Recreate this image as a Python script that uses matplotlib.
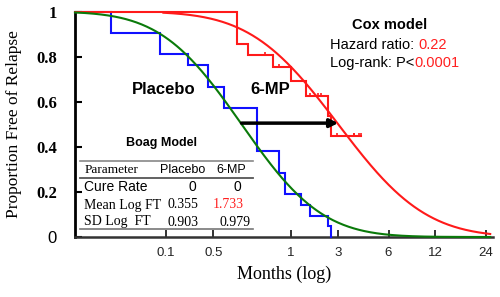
import numpy as np
import matplotlib
matplotlib.use("Agg")
import matplotlib.pyplot as plt
from matplotlib.lines import Line2D
from math import erf, sqrt

# ---------------- data ----------------
# Gehan leukemia remission data (weeks)
placebo_times = [1, 1, 2, 2, 3, 4, 4, 5, 5, 8, 8, 8, 8, 11, 11, 12, 12, 15, 17, 22, 23]
placebo_event = [1] * 21
mp_times = [6, 6, 6, 6, 7, 9, 10, 10, 11, 13, 16, 17, 19, 20, 22, 23, 25, 32, 32, 34, 35]
mp_event = [1, 1, 1, 0, 1, 0, 1, 0, 0, 1, 1, 0, 0, 0, 1, 1, 0, 0, 0, 0, 0]
weeks_per_unit = 4.5

# Boag (lognormal) model parameters
placebo_mu, placebo_sd, placebo_cure = 0.355, 0.903, 0.0
mp_mu, mp_sd, mp_cure = 1.733, 0.979, 0.0

tick_pos = [-0.72, -0.047, 1.06, 1.73, 2.45, 3.12, 3.84]
tick_labels = ["0.1", "0.5", "1", "3", "6", "12", "24"]
ytick_vals = [0, 0.2, 0.4, 0.6, 0.8, 1]
ytick_labels = ["0", "0.2", "0.4", "0.6", "0.8", "1"]

hazard_ratio = "0.22"
logrank_p = "0.0001"

# ---------------- helpers ----------------
def km(times, events):
    times = np.asarray(times, float); events = np.asarray(events, int)
    ut = np.unique(times)
    s = 1.0; xs = []; ss = []; cens = []
    at_risk = len(times)
    for t in ut:
        d = int(((times == t) & (events == 1)).sum())
        c = int(((times == t) & (events == 0)).sum())
        if d > 0:
            s *= (at_risk - d) / at_risk
            xs.append(t); ss.append(s)
        for _ in range(c):
            cens.append((t, s))
        at_risk -= d + c
    return xs, ss, cens

def u(t):
    return np.log(np.asarray(t, float) / weeks_per_unit)

def surv(x, mu, sd, cure):
    z = (x - mu) / sd
    phi = np.array([0.5 * (1 + erf(v / sqrt(2))) for v in np.atleast_1d(z)])
    return cure + (1 - cure) * (1 - phi)

XMIN, XMAX = -2.02, 3.94

fig = plt.figure(figsize=(5.0, 2.97), dpi=100)
ax = fig.add_axes([0.15, 1 - 237 / 297, (493 - 75) / 500, (237 - 11.5) / 297])
ax.set_xlim(XMIN, XMAX)
ax.set_ylim(0, 1.0)

def draw_km(times, events, color):
    xs, ss, cens = km(times, events)
    px = [XMIN]; py = [1.0]
    prev = 1.0
    for t, s in zip(xs, ss):
        px += [u(t), u(t)]; py += [prev, s]; prev = s
    last_t = max(times)
    if u(last_t) > px[-1]:
        px.append(u(last_t)); py.append(prev)
    ax.plot(px, py, color=color, lw=1.5, clip_on=False, zorder=3, solid_joinstyle="miter")
    if cens:
        cx = [u(c[0]) for c in cens]; cy = [c[1] for c in cens]
        ax.plot(cx, cy, ls="none", marker=[(0, 0), (0, 1)], ms=5, mew=1.2,
                color=color, clip_on=False, zorder=3)

draw_km(placebo_times, placebo_event, "#1010ff")
draw_km(mp_times, mp_event, "#ff1a1a")

xg = np.linspace(XMIN, 3.9, 400)
ax.plot(xg, surv(xg, placebo_mu, placebo_sd, placebo_cure), color="#0a7a0a", lw=1.5, zorder=4, clip_on=False)
xr = np.linspace(-0.76, 3.9, 400)
ax.plot(xr, surv(xr, mp_mu, mp_sd, mp_cure), color="#ff1a1a", lw=1.5, zorder=4, clip_on=False)

ax.annotate("", xy=(mp_mu, 0.505), xytext=(placebo_mu, 0.505),
            arrowprops=dict(arrowstyle="-|>", color="black", lw=2.5,
                            mutation_scale=12, shrinkA=0, shrinkB=0), zorder=6)

for s in ["top", "right"]:
    ax.spines[s].set_visible(False)
ax.spines["left"].set_linewidth(2.0)
ax.spines["left"].set_color("black")
ax.spines["bottom"].set_color("#333333")
ax.spines["bottom"].set_linewidth(1.8)
ax.set_xticks(tick_pos)
ax.set_xticklabels(tick_labels, fontsize=9.5, family="Liberation Sans")
ax.set_yticks(ytick_vals)
ax.set_yticklabels(ytick_labels)
for lbl in ax.get_yticklabels():
    if lbl.get_text() == "0":
        lbl.set_family("Liberation Sans"); lbl.set_fontsize(12)
    else:
        lbl.set_family("Liberation Serif"); lbl.set_fontweight("bold"); lbl.set_fontsize(12)
ax.tick_params(axis="y", direction="in", length=5, width=1.5, pad=13)
ax.tick_params(axis="x", direction="in", length=5, width=1.3, pad=7, colors="#222222")

ax.set_ylabel("Proportion Free of Relapse", family="Liberation Serif", fontsize=12.5, labelpad=10)
ax.set_xlabel("Months (log)", family="Liberation Serif", fontsize=13, labelpad=5)

def ft(x, y, s, **kw):
    return fig.text(x / 500, 1 - y / 297, s, **kw)

ft(164, 90, "Placebo", fontsize=12, fontweight="bold", family="Liberation Sans", ha="center", va="center")
ft(270, 90, "6-MP", fontsize=12, fontweight="bold", family="Liberation Sans", ha="center", va="center")
ft(162, 143, "Boag Model", fontsize=9, fontweight="bold", family="Liberation Sans", ha="center", va="center")
ft(390, 25, "Cox model", fontsize=10.5, fontweight="bold", family="Liberation Sans", ha="center", va="center")

renderer = fig.canvas.get_renderer()
def two_tone(x, y, a, b):
    t1 = ft(x, y, a, fontsize=10.5, family="Liberation Sans", ha="left", va="center")
    bb = t1.get_window_extent(renderer)
    fig.text(bb.x1 / fig.bbox.width, 1 - y / 297, b, fontsize=10.5, family="Liberation Sans",
             ha="left", va="center", color="#ff2020")

two_tone(330, 45, "Hazard ratio: ", hazard_ratio)
two_tone(330, 63, "Log-rank: P<", logrank_p)

for yy, col, lw in [(161, "#888888", 1.2), (178, "#555555", 1.3), (229, "#777777", 1.2)]:
    fig.add_artist(Line2D([80 / 500, 253 / 500], [1 - yy / 297] * 2, color=col, lw=lw))

ft(85, 170, "Parameter", fontsize=9.5, family="Liberation Serif", ha="left", va="center")
ft(183, 170, "Placebo", fontsize=9, family="Liberation Sans", ha="center", va="center")
ft(231, 170, "6-MP", fontsize=9, family="Liberation Sans", ha="center", va="center")
ft(84, 187, "Cure Rate", fontsize=10, family="Liberation Sans", ha="left", va="center")
ft(192, 187, f"{placebo_cure:g}", fontsize=10, family="Liberation Sans", ha="center", va="center")
ft(237, 187, f"{mp_cure:g}", fontsize=10, family="Liberation Sans", ha="center", va="center")
ft(84, 205, "Mean Log FT", fontsize=10, family="Liberation Serif", ha="left", va="center")
ft(183, 205, f"{placebo_mu:.3f}", fontsize=10, family="Liberation Serif", ha="center", va="center")
ft(228, 205, f"{mp_mu:.3f}", fontsize=10, family="Liberation Serif", ha="center", va="center", color="#ff2020")
ft(84, 222, "SD Log  FT", fontsize=10, family="Liberation Serif", ha="left", va="center")
ft(183, 222, f"{placebo_sd:.3f}", fontsize=10, family="Liberation Serif", ha="center", va="center")
ft(235, 222, f"{mp_sd:.3f}", fontsize=10, family="Liberation Serif", ha="center", va="center")

fig.savefig("out.png", dpi=100)
